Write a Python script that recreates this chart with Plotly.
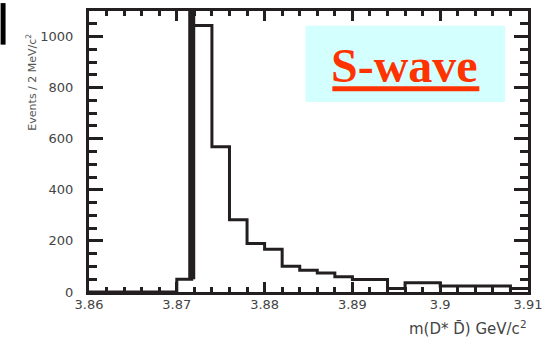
import plotly.graph_objects as go

# ---- data ----
bin_edges = [3.860, 3.870, 3.8717, 3.874, 3.876, 3.878, 3.880, 3.882, 3.884,
             3.886, 3.888, 3.890, 3.894, 3.896, 3.900, 3.908, 3.910]
bin_counts = [0, 50, 1043, 569, 283, 190, 167, 101, 85, 74, 60, 49, 14, 36, 23, 14]
threshold = 3.8717
x_ticks = [3.86, 3.87, 3.88, 3.89, 3.90, 3.91]
x_tick_text = ["3.86", "3.87", "3.88", "3.89", "3.9", "3.91"]
y_ticks = [0, 200, 400, 600, 800, 1000]
y_tick_text = ["0", "200", "400", "600", "800", "1000"]
label_text = "S-wave"

# ---- layout constants ----
W, H = 550, 339
ML, MR, MT, MB = 89, 19, 8, 47
PW, PH = W - ML - MR, H - MT - MB
INK = "#231f20"


def px_x(px):
    return (px - ML) / PW


def px_y(py):
    return (H - MB - py) / PH


fig = go.Figure()

fig.add_trace(go.Scatter(
    x=bin_edges,
    y=bin_counts + [bin_counts[-1]],
    mode="lines",
    line=dict(shape="hv", color=INK, width=3),
    hoverinfo="skip",
    showlegend=False,
))

# thick threshold line
fig.add_trace(go.Scatter(
    x=[threshold, threshold],
    y=[bin_counts[1], 1100],
    mode="lines",
    line=dict(color=INK, width=7),
    hoverinfo="skip",
    showlegend=False,
))

shapes = [
    # cyan label box
    dict(type="rect", xref="paper", yref="paper",
         x0=px_x(307), x1=px_x(508), y0=px_y(100), y1=px_y(23),
         fillcolor="#d4ffff", line=dict(width=0), layer="below"),
    # underline
    dict(type="rect", xref="paper", yref="paper",
         x0=px_x(334), x1=px_x(482), y0=px_y(89), y1=px_y(84),
         fillcolor="#ff3300", line=dict(width=0), layer="above"),
    # black mark at top-left corner
    dict(type="rect", xref="paper", yref="paper",
         x0=px_x(0), x1=px_x(5), y0=px_y(42), y1=px_y(0),
         fillcolor="black", line=dict(width=0), layer="above"),
]

annotations = [
    dict(text=f"<b>{label_text}</b>", xref="paper", yref="paper",
         x=px_x(407), y=px_y(63), xanchor="center", yanchor="middle",
         showarrow=False,
         font=dict(family="Liberation Serif", size=48, color="#ff3300")),
    dict(text="m(D* D\u0304) GeV/c<sup>2</sup>", xref="paper", yref="paper",
         x=px_x(532), y=px_y(328), xanchor="right", yanchor="middle",
         showarrow=False,
         font=dict(family="DejaVu Sans", size=15, color="#444")),
    dict(text="Events / 2 MeV/c<sup>2</sup>", xref="paper", yref="paper",
         x=px_x(31), y=px_y(80), xanchor="center", yanchor="middle",
         textangle=-90, showarrow=False,
         font=dict(family="DejaVu Sans", size=11, color="#555")),
]

axis_common = dict(
    showline=True, linecolor=INK, linewidth=3, mirror="allticks",
    ticks="inside", tickcolor=INK, tickwidth=3,
    showgrid=False, zeroline=False,
    tickfont=dict(family="DejaVu Sans", size=13, color="#444"),
)

fig.update_layout(
    width=W, height=H,
    margin=dict(l=ML, r=MR, t=MT, b=MB),
    paper_bgcolor="white", plot_bgcolor="white",
    xaxis=dict(range=[3.86, 3.91], tickmode="array", tickvals=x_ticks,
               ticktext=x_tick_text, ticklen=10, ticklabelstandoff=-2,
               minor=dict(dtick=0.002, ticks="inside", ticklen=5,
                          tickcolor=INK, tickwidth=3),
               **axis_common),
    yaxis=dict(range=[0, 1100], tickmode="array", tickvals=y_ticks,
               ticktext=y_tick_text, ticklen=14, ticklabelstandoff=10,
               minor=dict(dtick=50, ticks="inside", ticklen=8,
                          tickcolor=INK, tickwidth=3),
               **axis_common),
    shapes=shapes,
    annotations=annotations,
)

fig.write_html("out.html")
